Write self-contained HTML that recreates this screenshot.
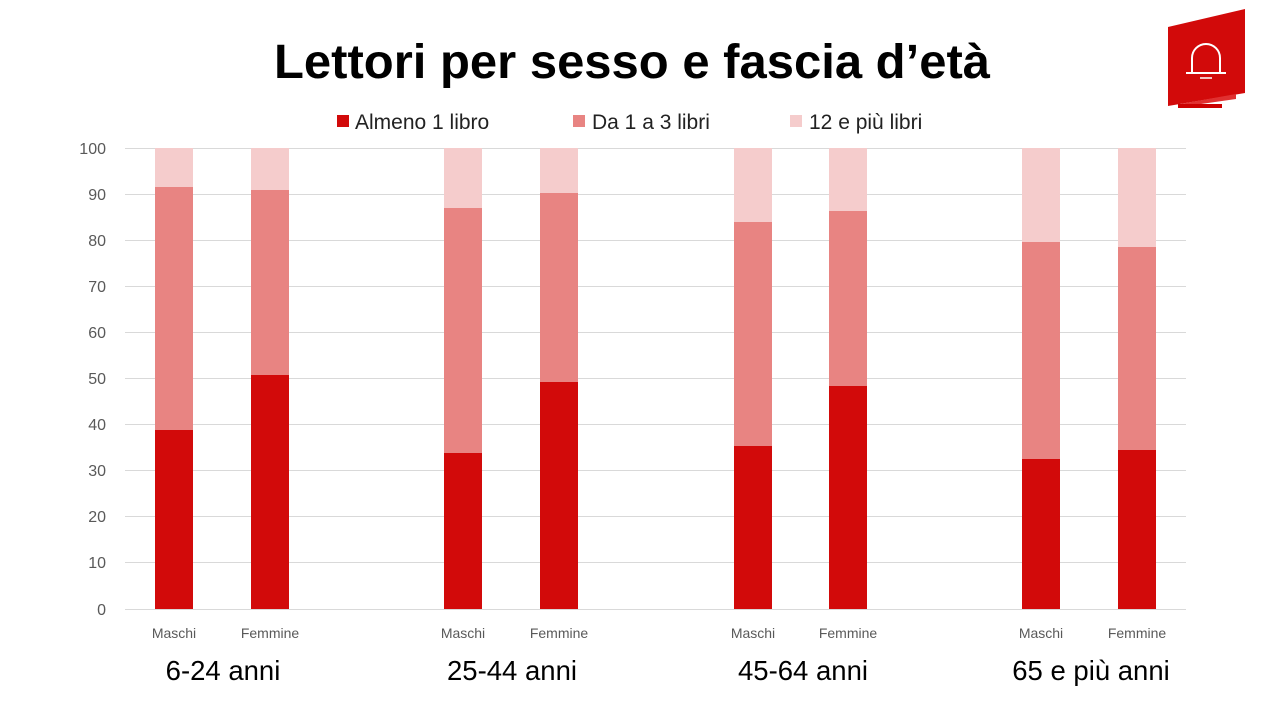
<!DOCTYPE html>
<html><head><meta charset="utf-8"><style>
body{margin:0;background:#fff;}
svg{display:block;font-family:"Liberation Sans",sans-serif;}
</style></head><body>
<svg width="1265" height="712" viewBox="0 0 1265 712">
<text x="632" y="78" text-anchor="middle" font-size="48" font-weight="bold" textLength="716" lengthAdjust="spacingAndGlyphs">Lettori per sesso e fascia d’età</text>
<polygon points="1168,27 1245,9 1245,93 1168,106" fill="#d20a0a"/>
<polygon points="1180,104 1236,94 1236,99 1180,107" fill="#e03030"/>
<rect x="1178" y="104" width="44" height="4" fill="#c00"/>
<path d="M1192,72 V58 A14,14 0 0 1 1220,58 V72" fill="none" stroke="#fff" stroke-width="2"/>
<line x1="1186" y1="73" x2="1226" y2="73" stroke="#fff" stroke-width="2"/>
<line x1="1200" y1="78" x2="1212" y2="78" stroke="#fff" stroke-width="1.5"/>
<g font-size="21" fill="#222">
<rect x="337" y="115" width="12" height="12" fill="#d20a0a"/><text x="355" y="129">Almeno 1 libro</text>
<rect x="573" y="115" width="12" height="12" fill="#e88482"/><text x="592" y="129">Da 1 a 3 libri</text>
<rect x="790" y="115" width="12" height="12" fill="#f5cccc"/><text x="809" y="129">12 e più libri</text>
</g>
<g stroke="#d9d9d9" stroke-width="1">
<line x1="125" y1="148.5" x2="1186" y2="148.5"/><line x1="125" y1="194.5" x2="1186" y2="194.5"/>
<line x1="125" y1="240.5" x2="1186" y2="240.5"/><line x1="125" y1="286.5" x2="1186" y2="286.5"/>
<line x1="125" y1="332.5" x2="1186" y2="332.5"/><line x1="125" y1="378.5" x2="1186" y2="378.5"/>
<line x1="125" y1="424.5" x2="1186" y2="424.5"/><line x1="125" y1="470.5" x2="1186" y2="470.5"/>
<line x1="125" y1="516.5" x2="1186" y2="516.5"/><line x1="125" y1="562.5" x2="1186" y2="562.5"/>
<line x1="125" y1="609.5" x2="1186" y2="609.5"/>
</g>
<g font-size="16" fill="#595959" text-anchor="end">
<text x="106" y="154">100</text><text x="106" y="200">90</text><text x="106" y="246">80</text>
<text x="106" y="292">70</text><text x="106" y="338">60</text><text x="106" y="384">50</text>
<text x="106" y="430">40</text><text x="106" y="476">30</text><text x="106" y="522">20</text>
<text x="106" y="568">10</text><text x="106" y="615">0</text>
</g>
<g>
<rect x="155" y="148" width="38" height="461" fill="#f5cccc"/><rect x="155" y="187" width="38" height="422" fill="#e88482"/><rect x="155" y="430" width="38" height="179" fill="#d20a0a"/>
<rect x="251" y="148" width="38" height="461" fill="#f5cccc"/><rect x="251" y="190" width="38" height="419" fill="#e88482"/><rect x="251" y="375" width="38" height="234" fill="#d20a0a"/>
<rect x="444" y="148" width="38" height="461" fill="#f5cccc"/><rect x="444" y="208" width="38" height="401" fill="#e88482"/><rect x="444" y="453" width="38" height="156" fill="#d20a0a"/>
<rect x="540" y="148" width="38" height="461" fill="#f5cccc"/><rect x="540" y="193" width="38" height="416" fill="#e88482"/><rect x="540" y="382" width="38" height="227" fill="#d20a0a"/>
<rect x="734" y="148" width="38" height="461" fill="#f5cccc"/><rect x="734" y="222" width="38" height="387" fill="#e88482"/><rect x="734" y="446" width="38" height="163" fill="#d20a0a"/>
<rect x="829" y="148" width="38" height="461" fill="#f5cccc"/><rect x="829" y="211" width="38" height="398" fill="#e88482"/><rect x="829" y="386" width="38" height="223" fill="#d20a0a"/>
<rect x="1022" y="148" width="38" height="461" fill="#f5cccc"/><rect x="1022" y="242" width="38" height="367" fill="#e88482"/><rect x="1022" y="459" width="38" height="150" fill="#d20a0a"/>
<rect x="1118" y="148" width="38" height="461" fill="#f5cccc"/><rect x="1118" y="247" width="38" height="362" fill="#e88482"/><rect x="1118" y="450" width="38" height="159" fill="#d20a0a"/>
</g>
<g font-size="14" fill="#595959" text-anchor="middle">
<text x="174" y="638">Maschi</text><text x="270" y="638">Femmine</text>
<text x="463" y="638">Maschi</text><text x="559" y="638">Femmine</text>
<text x="753" y="638">Maschi</text><text x="848" y="638">Femmine</text>
<text x="1041" y="638">Maschi</text><text x="1137" y="638">Femmine</text>
</g>
<g font-size="27.5" fill="#000" text-anchor="middle">
<text x="223" y="680">6-24 anni</text>
<text x="512" y="680">25-44 anni</text>
<text x="803" y="680">45-64 anni</text>
<text x="1091" y="680">65 e più anni</text>
</g>
</svg>
</body></html>
